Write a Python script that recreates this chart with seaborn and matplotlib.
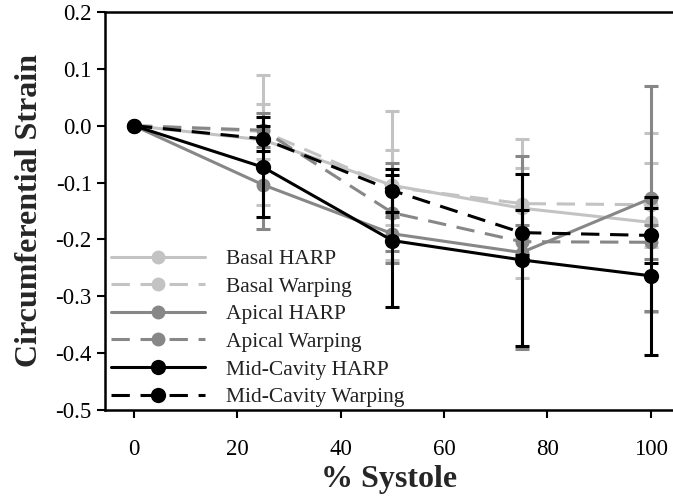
import matplotlib
matplotlib.use("Agg")
import matplotlib.pyplot as plt
import seaborn as sns
import pandas as pd

# % systole sample points
systole = [0, 25, 50, 75, 100]

# mean circumferential strain per region / method
basal_harp = [0.0, -0.025, -0.105, -0.145, -0.170]
basal_warping = [0.0, -0.010, -0.108, -0.137, -0.139]
apical_harp = [0.0, -0.104, -0.190, -0.223, -0.128]
apical_warping = [0.0, -0.008, -0.153, -0.204, -0.205]
mid_harp = [0.0, -0.073, -0.202, -0.236, -0.264]
mid_warping = [0.0, -0.023, -0.114, -0.188, -0.193]

# standard deviations
basal_harp_sd = [0.0, 0.115, 0.131, 0.122, 0.157]
basal_warping_sd = [0.0, 0.049, 0.066, 0.063, 0.074]
apical_harp_sd = [0.0, 0.077, 0.030, 0.170, 0.197]
apical_warping_sd = [0.0, 0.030, 0.088, 0.030, 0.030]
mid_harp_sd = [0.0, 0.088, 0.116, 0.151, 0.139]
mid_warping_sd = [0.0, 0.022, 0.038, 0.039, 0.048]

series_names = ["Basal HARP", "Basal Warping", "Apical HARP",
                "Apical Warping", "Mid-Cavity HARP", "Mid-Cavity Warping"]
series_means = [basal_harp, basal_warping, apical_harp,
                apical_warping, mid_harp, mid_warping]
series_sds = [basal_harp_sd, basal_warping_sd, apical_harp_sd,
              apical_warping_sd, mid_harp_sd, mid_warping_sd]
series_colors = ["#c3c3c3", "#c3c3c3", "#878787", "#878787", "#000000", "#000000"]
series_dashed = [False, True, False, True, False, True]

y_ticks = [0.2, 0.1, 0.0, -0.1, -0.2, -0.3, -0.4, -0.5]
x_ticks = [0, 20, 40, 60, 80, 100]

rows = []
for name, means, sds in zip(series_names, series_means, series_sds):
    for x, m, s in zip(systole, means, sds):
        rows.append({"systole": x, "strain": m, "sd": s, "series": name})
df = pd.DataFrame(rows)

sns.set_theme(style="ticks")
plt.rcParams["font.family"] = ["Liberation Serif", "DejaVu Serif"]
plt.rcParams["axes.unicode_minus"] = False

fig = plt.figure(figsize=(6.73, 4.97), dpi=100)
ax = fig.add_axes([105 / 673, 1 - 410 / 497, 568 / 673, (410 - 12) / 497])

lw = 2.2
for i, (name, color, dashed) in enumerate(zip(series_names, series_colors, series_dashed)):
    sub = df[df["series"] == name]
    z = 2 + i
    ax.errorbar(sub["systole"], sub["strain"], yerr=sub["sd"], fmt="none",
                ecolor=color, elinewidth=lw, capsize=5, capthick=2.2, zorder=z)
    sns.lineplot(data=sub, x="systole", y="strain", ax=ax, color=color,
                 linewidth=lw, marker="o",
                 markersize=11 if color == "#000000" else 10,
                 markeredgewidth=0, markerfacecolor=color,
                 linestyle=(0, (6, 3.5)) if dashed else "-",
                 label=name, zorder=z + 0.5)

ax.set_xlim(-5.6, 104.3)
ax.set_ylim(-0.5, 0.2)
ax.set_xticks(x_ticks)
ax.set_yticks(y_ticks)
ax.set_yticklabels([f"{t:.1f}" for t in y_ticks])
ax.tick_params(axis="both", direction="out", length=6, width=1.5,
               labelsize=16.5, colors="black")
ax.tick_params(axis="x", pad=15)

for side in ["left", "bottom", "top"]:
    ax.spines[side].set_linewidth(1.8)
    ax.spines[side].set_color("black")
ax.spines["right"].set_visible(False)

ax.set_xlabel("% Systole", fontsize=23, fontweight="bold", labelpad=3.5)
ax.set_ylabel("Circumferential Strain", fontsize=23, fontweight="bold", labelpad=8)

leg = ax.legend(loc="lower left", bbox_to_anchor=(-0.009, -0.02), frameon=False,
                fontsize=15.5, handlelength=4.4, handletextpad=0.95,
                labelspacing=0.35, borderaxespad=0.1)
for text in leg.get_texts():
    text.set_color("#222222")

fig.savefig("out.png", dpi=100)
